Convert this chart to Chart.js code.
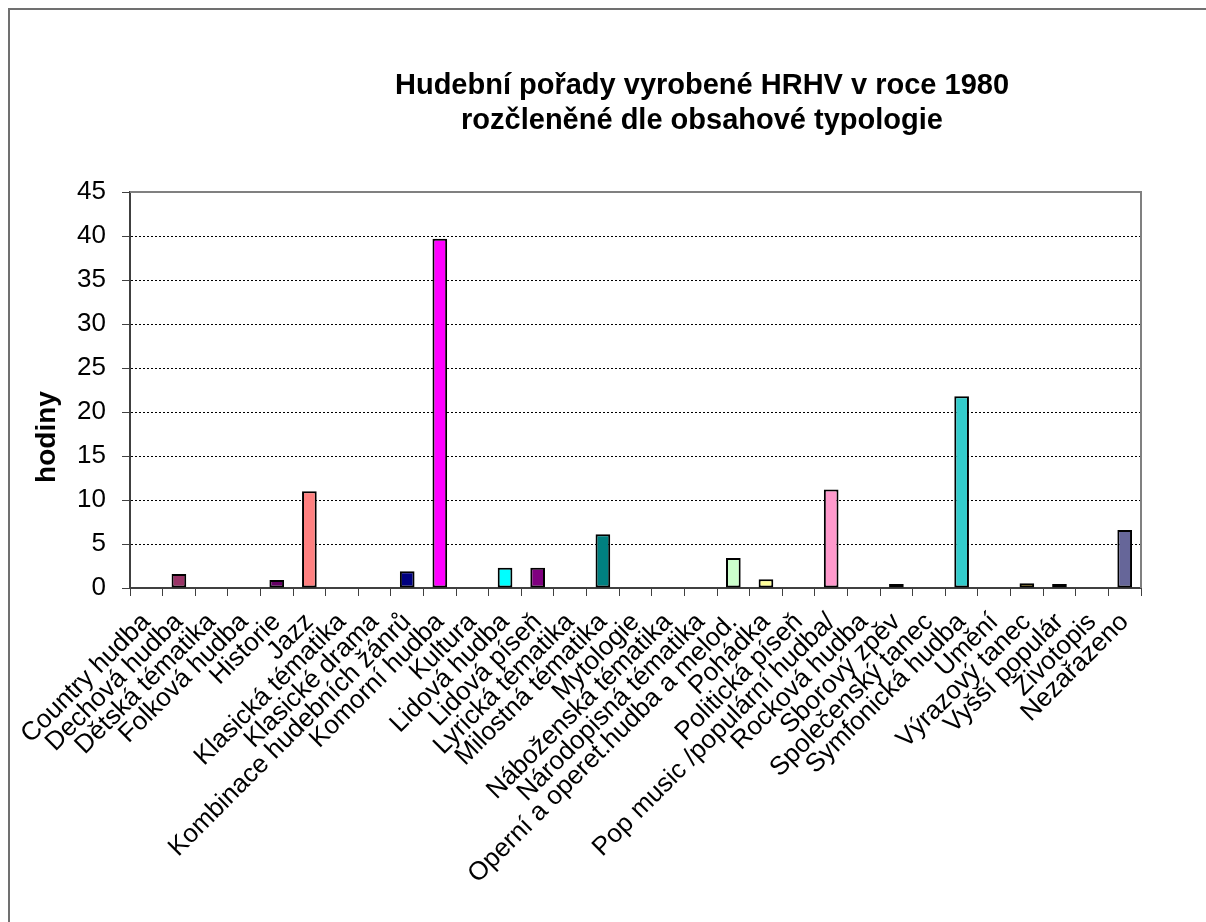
<!DOCTYPE html>
<html>
<head>
<meta charset="utf-8">
<script src="https://cdn.jsdelivr.net/npm/chart.js@4/dist/chart.umd.min.js"></script>
<style>
  html, body { margin: 0; padding: 0; background: #fff; }
  #wrap { width: 1206px; height: 922px; position: relative; }
</style>
</head>
<body>
<div id="wrap"><canvas id="chart" width="1206" height="922"></canvas></div>
<script>
// categories + hours
const categories = [
    'Country hudba', 'Dechová hudba', 'Dětská tématika', 'Folková hudba', 'Historie',
    'Jazz', 'Klasická tématika', 'Klasické drama', 'Kombinace hudebních žánrů', 'Komorní hudba',
    'Kultura', 'Lidová hudba', 'Lidová píseň', 'Lyrická tématika', 'Milostná tématika',
    'Mytologie', 'Náboženská tématika', 'Národopisná tématika', 'Operní a operet.hudba a melod.', 'Pohádka',
    'Politická píseň', 'Pop music /populární hudba/', 'Rocková hudba', 'Sborový zpěv', 'Společenský tanec',
    'Symfonická hudba', 'Umění', 'Výrazový tanec', 'Vyšší populár', 'Životopis', 'Nezařazeno'
];
const hours = [
    0, 1.6, 0, 0, 0.9,
    11.0, 0, 0, 1.9, 39.7,
    0, 2.3, 2.3, 0, 6.1,
    0, 0, 0, 3.4, 1.0,
    0, 11.2, 0, 0.45, 0,
    21.8, 0, 0.55, 0.45, 0, 6.6
];
const barColors = [
    '#ffffff', '#993366', '#ffffff', '#ffffff', '#660066',
    '#ff8080', '#ffffff', '#ffffff', '#000080', '#ff00ff',
    '#ffffff', '#00ffff', '#800080', '#ffffff', '#008080',
    '#ffffff', '#ffffff', '#ffffff', '#ccffcc', '#ffff99',
    '#ffffff', '#ff99cc', '#ffffff', '#ffcc99', '#ffffff',
    '#33cccc', '#ffffff', '#ffcc00', '#ff9900', '#ffffff', '#666699'
];
const yTicks = [0, 5, 10, 15, 20, 25, 30, 35, 40, 45];
const titleLines = ['Hudební pořady vyrobené HRHV v roce 1980', 'rozčleněné dle obsahové typologie'];
const yTitle = 'hodiny';

const FONT = '"Liberation Sans", Arial, sans-serif';

// frame, plot border, titles drawn by hand
const decorPlugin = {
    id: 'decor',
    beforeDraw(chart) {
        const ctx = chart.ctx;
        ctx.save();
        ctx.fillStyle = '#fff';
        ctx.fillRect(0, 0, chart.width, chart.height);
        ctx.strokeStyle = '#707070';
        ctx.lineWidth = 2;
        ctx.beginPath();
        ctx.moveTo(9, chart.height);
        ctx.lineTo(9, 9);
        ctx.lineTo(chart.width, 9);
        ctx.stroke();
        ctx.restore();
    },
    afterDraw(chart) {
        const ctx = chart.ctx;
        const a = chart.chartArea;
        ctx.save();
        ctx.strokeStyle = '#808080';
        ctx.lineWidth = 2;
        ctx.beginPath();
        ctx.moveTo(a.left, a.top);
        ctx.lineTo(a.right, a.top);
        ctx.lineTo(a.right, a.bottom);
        ctx.stroke();

        ctx.fillStyle = '#000';
        ctx.textAlign = 'center';
        ctx.textBaseline = 'middle';
        ctx.font = 'bold 29px ' + FONT;
        ctx.fillText(titleLines[0], 702, 86);
        ctx.fillText(titleLines[1], 702, 121);

        ctx.translate(47, 437);
        ctx.rotate(-Math.PI / 2);
        ctx.font = 'bold 28px ' + FONT;
        ctx.fillText(yTitle, 0, 0);
        ctx.restore();
    }
};

new Chart(document.getElementById('chart'), {
    type: 'bar',
    data: {
        labels: categories,
        datasets: [{
            data: hours,
            backgroundColor: barColors,
            borderColor: '#000',
            borderWidth: 2,
            borderSkipped: false,
            barPercentage: 0.45,
            categoryPercentage: 1
        }]
    },
    options: {
        responsive: false,
        animation: false,
        layout: { padding: { top: 192, right: 65, left: 0, bottom: 0 } },
        plugins: {
            legend: { display: false },
            tooltip: { enabled: false }
        },
        scales: {
            x: {
                afterFit: (s) => { s.height = 922 - 588; },
                grid: {
                    drawOnChartArea: false,
                    drawTicks: true,
                    tickLength: 8,
                    tickColor: '#404040',
                    tickWidth: 1
                },
                border: { color: '#404040', width: 2 },
                ticks: {
                    color: '#000',
                    font: { family: FONT, size: 26 },
                    minRotation: 45,
                    maxRotation: 45,
                    autoSkip: false,
                    padding: 11
                }
            },
            y: {
                min: 0,
                max: 45,
                afterFit: (s) => { s.width = 130; },
                afterBuildTicks: (s) => { s.ticks = yTicks.map(v => ({ value: v })); },
                grid: {
                    color: '#000',
                    lineWidth: 1,
                    tickLength: 8,
                    tickColor: '#404040',
                    tickWidth: 1
                },
                border: { color: '#404040', width: 2, dash: [2, 2] },
                ticks: {
                    color: '#000',
                    font: { family: FONT, size: 26 },
                    padding: 16
                }
            }
        }
    },
    plugins: [decorPlugin]
});
</script>
</body>
</html>
